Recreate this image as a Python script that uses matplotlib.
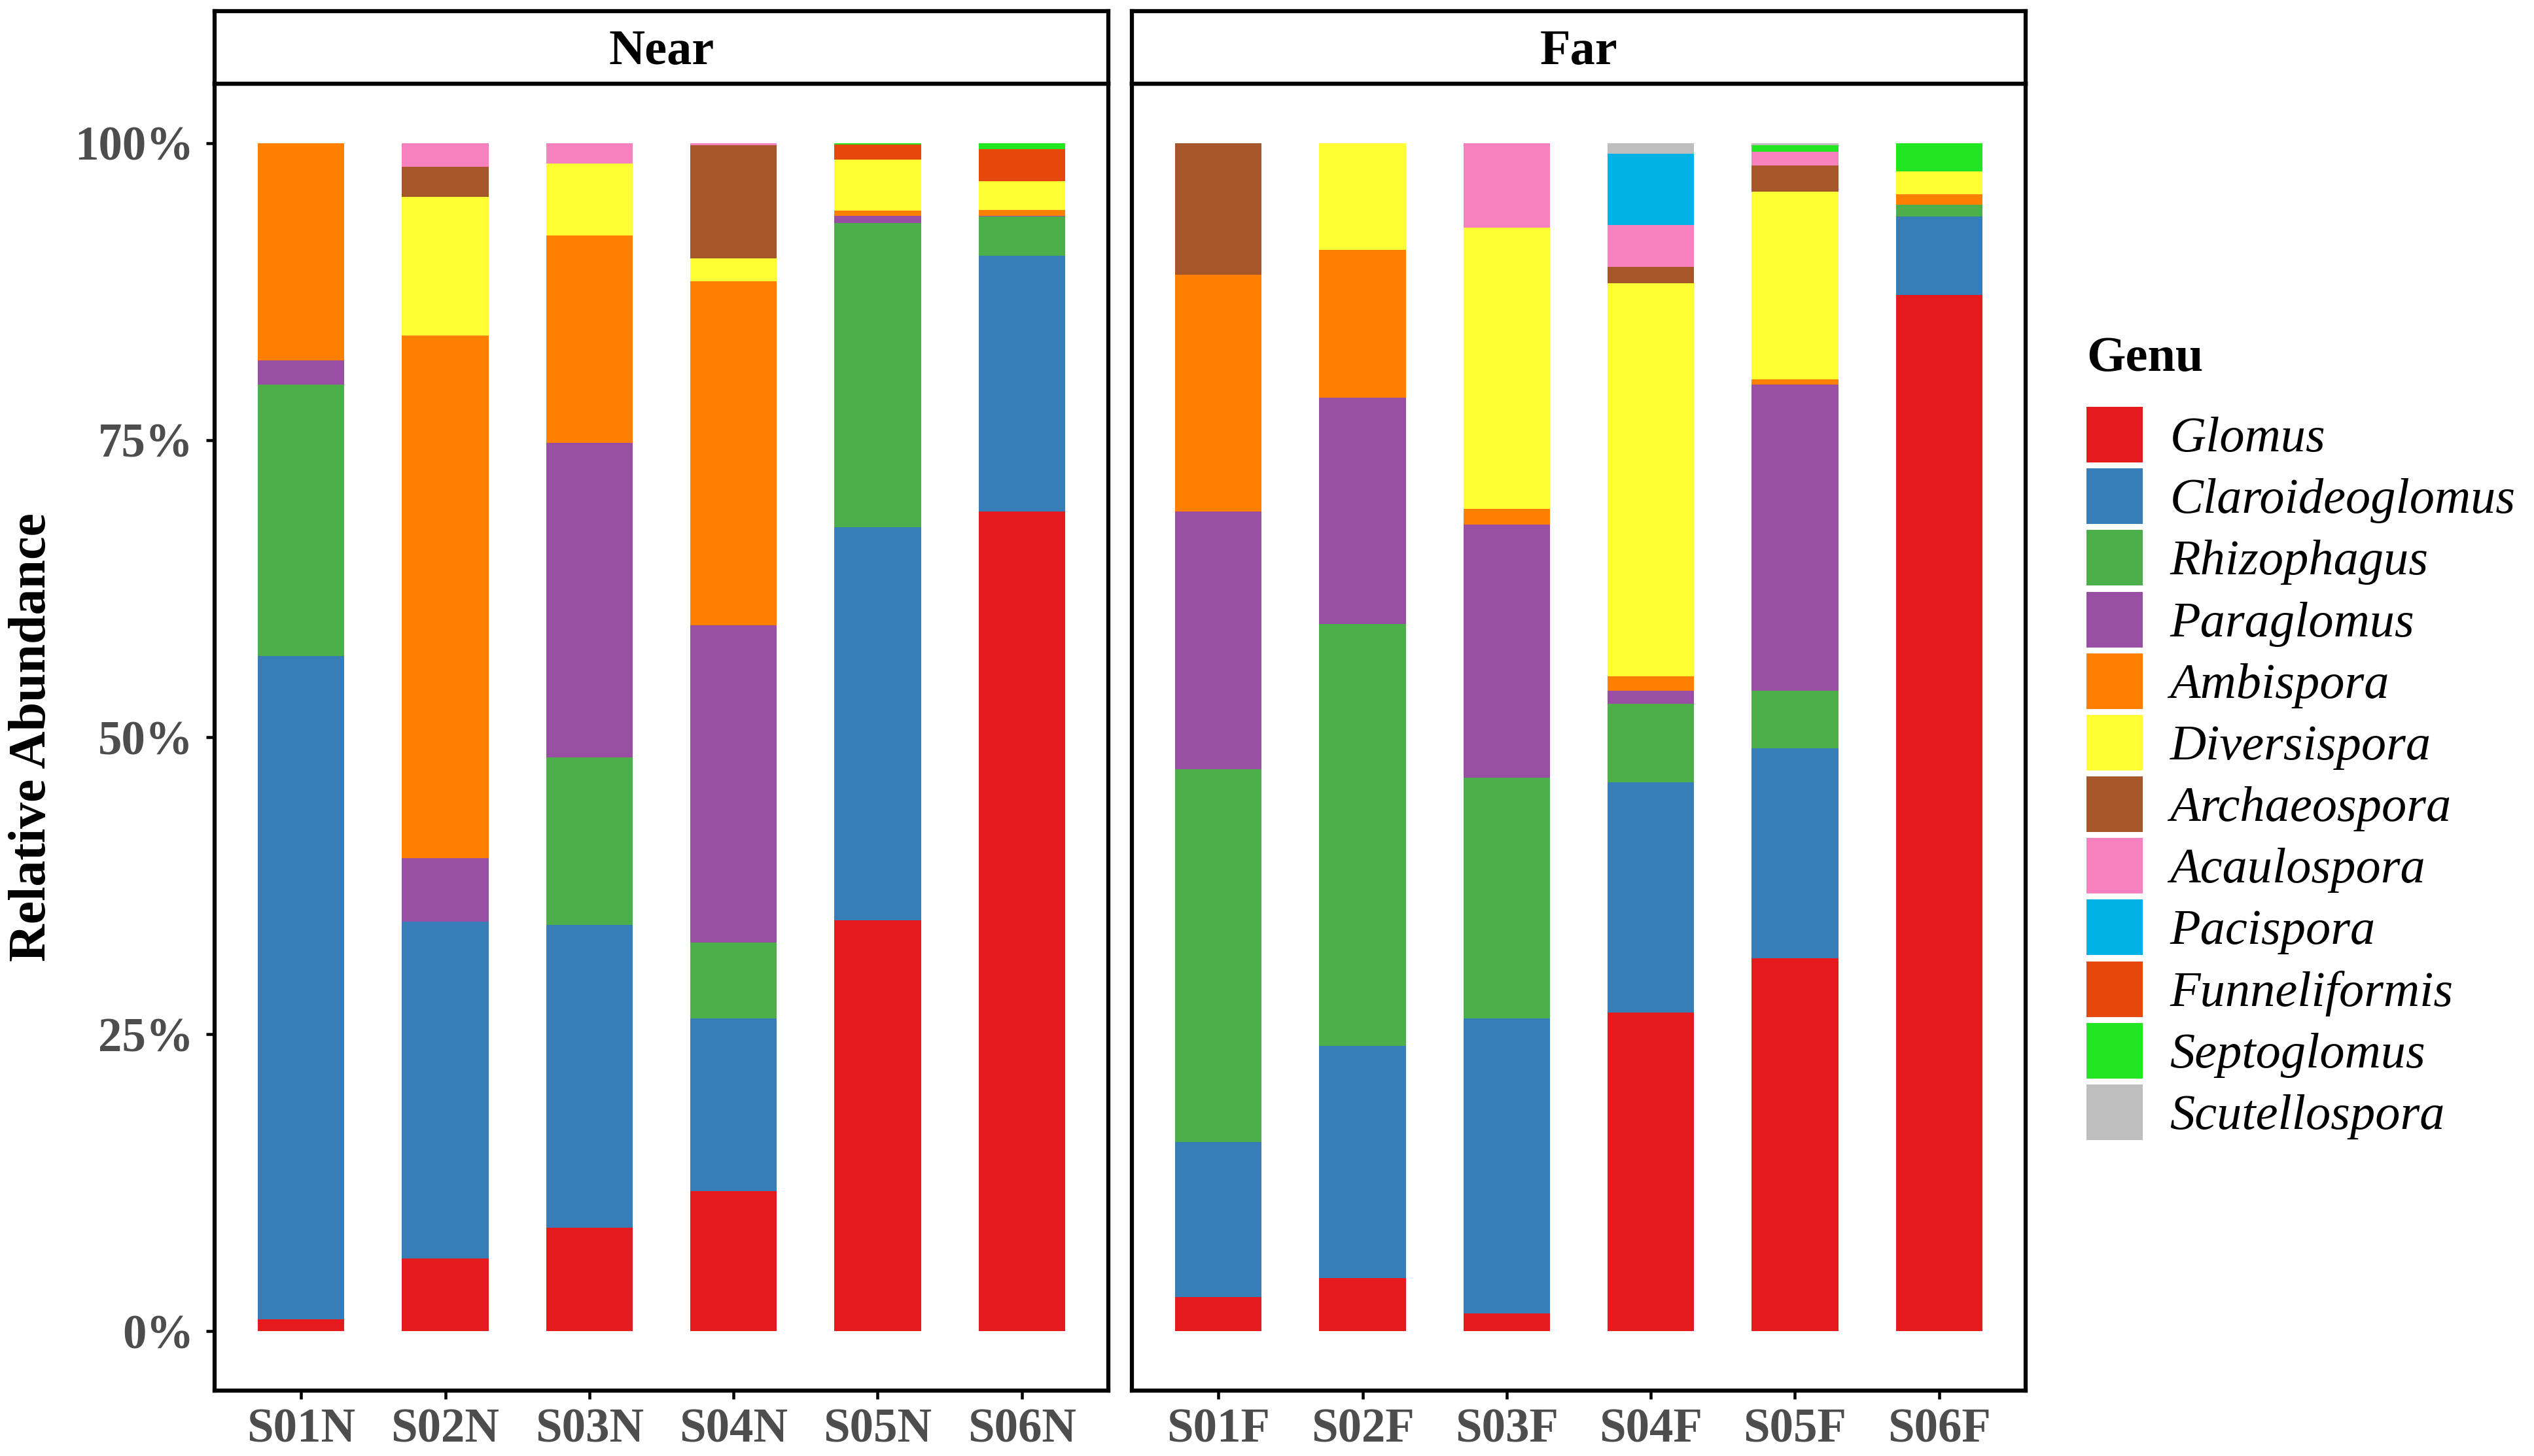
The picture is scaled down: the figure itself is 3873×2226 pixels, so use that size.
import numpy as np
import matplotlib
matplotlib.use("Agg")
import matplotlib.pyplot as plt
from matplotlib.patches import Patch

plt.rcParams['font.family'] = ['Liberation Serif', 'DejaVu Serif']

# ---------------- data ----------------
samples_near = ["S01N", "S02N", "S03N", "S04N", "S05N", "S06N"]
samples_far = ["S01F", "S02F", "S03F", "S04F", "S05F", "S06F"]
panels = ["Near", "Far"]

genera = ["Glomus", "Claroideoglomus", "Rhizophagus", "Paraglomus", "Ambispora",
          "Diversispora", "Archaeospora", "Acaulospora", "Pacispora",
          "Funneliformis", "Septoglomus", "Scutellospora"]
colors = ["#E41A1C", "#377EB8", "#4DAF4A", "#984EA3", "#FF7F00", "#FFFF33",
          "#A65628", "#F781BF", "#00B2E5", "#E6470A", "#22E622", "#BEBEBE"]

# relative abundance (%), order: S01N..S06N, S01F..S06F
glomus          = [1.0, 6.1, 8.7, 11.8, 34.6, 69.0, 2.9, 4.45, 1.5, 26.8, 31.4, 87.2]
claroideoglomus = [55.8, 28.4, 25.5, 14.5, 33.1, 21.5, 13.0, 19.55, 24.8, 19.4, 17.65, 6.6]
rhizophagus     = [22.9, 0.0, 14.1, 6.4, 25.6, 3.3, 31.4, 35.5, 20.3, 6.6, 4.85, 1.0]
paraglomus      = [2.0, 5.3, 26.5, 26.7, 0.6, 0.1, 21.7, 19.1, 21.3, 1.1, 25.8, 0.0]
ambispora       = [18.3, 44.0, 17.4, 29.0, 0.4, 0.5, 19.9, 12.4, 1.3, 1.2, 0.4, 0.9]
diversispora    = [0.0, 11.7, 6.1, 1.9, 4.3, 2.4, 0.0, 9.0, 23.7, 33.1, 15.8, 1.9]
archaeospora    = [0.0, 2.5, 0.0, 9.5, 0.0, 0.0, 11.1, 0.0, 0.0, 1.4, 2.2, 0.0]
acaulospora     = [0.0, 2.0, 1.7, 0.2, 0.0, 0.0, 0.0, 0.0, 7.1, 3.5, 1.2, 0.0]
pacispora       = [0.0, 0.0, 0.0, 0.0, 0.0, 0.0, 0.0, 0.0, 0.0, 6.0, 0.0, 0.0]
funneliformis   = [0.0, 0.0, 0.0, 0.0, 1.3, 2.7, 0.0, 0.0, 0.0, 0.0, 0.0, 0.0]
septoglomus     = [0.0, 0.0, 0.0, 0.0, 0.1, 0.5, 0.0, 0.0, 0.0, 0.0, 0.5, 2.4]
scutellospora   = [0.0, 0.0, 0.0, 0.0, 0.0, 0.0, 0.0, 0.0, 0.0, 0.9, 0.2, 0.0]

values = [glomus, claroideoglomus, rhizophagus, paraglomus, ambispora, diversispora,
          archaeospora, acaulospora, pacispora, funneliformis, septoglomus, scutellospora]

yticks = [0, 25, 50, 75, 100]
ytick_labels = ["0%", "25%", "50%", "75%", "100%"]

# ---------------- figure ----------------
W, H, DPI = 3873, 2226, 250
fig = plt.figure(figsize=(W / DPI, H / DPI), dpi=DPI)

panel_left = [328 / W, 1730 / W]
panel_w = 1366 / W
panel_bottom = 1 - 2126 / H
panel_h = (2126 - 128) / H
strip_bottom = 1 - 128 / H
strip_h = (128 - 17) / H

tick_color = "#4D4D4D"
lw_border = 1.8

for p, (name, samples) in enumerate(zip(panels, [samples_near, samples_far])):
    ax = fig.add_axes([panel_left[p], panel_bottom, panel_w, panel_h])
    x = np.arange(1, len(samples) + 1)
    bottom = np.zeros(len(samples))
    for g, col, vals in zip(genera, colors, values):
        v = np.array(vals[p * 6:(p + 1) * 6])
        ax.bar(x, v, width=0.6, bottom=bottom, color=col, linewidth=0, label=g)
        bottom += v
    ax.set_xlim(0.4, 6.6)
    ax.set_ylim(-5, 105)
    ax.set_xticks(x)
    ax.set_xticklabels(samples, fontsize=21, fontweight="bold", color=tick_color)
    if p == 0:
        ax.set_yticks(yticks)
        ax.set_yticklabels(ytick_labels, fontsize=21, fontweight="bold", color=tick_color)
    else:
        ax.set_yticks([])
    ax.tick_params(axis="both", length=3.7, width=1.3, color="black")
    ax.tick_params(axis="x", pad=4)
    ax.tick_params(axis="y", pad=5.5)
    for s in ax.spines.values():
        s.set_linewidth(lw_border)
        s.set_color("black")

    sax = fig.add_axes([panel_left[p], strip_bottom, panel_w, strip_h])
    sax.set_xticks([])
    sax.set_yticks([])
    sax.set_facecolor("white")
    for s in sax.spines.values():
        s.set_linewidth(lw_border)
        s.set_color("black")
    sax.text(0.5, 0.44, name, transform=sax.transAxes, ha="center", va="center",
             fontsize=22, fontweight="bold", color="black")

fig.text(50 / W, panel_bottom + panel_h / 2, "Relative Abundance", rotation=90,
         ha="center", va="center", fontsize=23, fontweight="bold")

# legend
fig.text(3189 / W, 1 - 548 / H, "Genu", ha="left", va="center",
         fontsize=22, fontweight="bold")
handles = [Patch(facecolor=c, edgecolor="none") for c in colors]
leg = fig.legend(handles, genera, loc="upper left", bbox_to_anchor=(3189 / W, 1 - 622 / H),
                 frameon=False, borderpad=0, borderaxespad=0,
                 handlelength=1.13, handleheight=1.335, labelspacing=0.12,
                 handletextpad=0.54, prop={"size": 22, "style": "italic"})

fig.savefig("out.png", dpi=DPI, facecolor="white")
